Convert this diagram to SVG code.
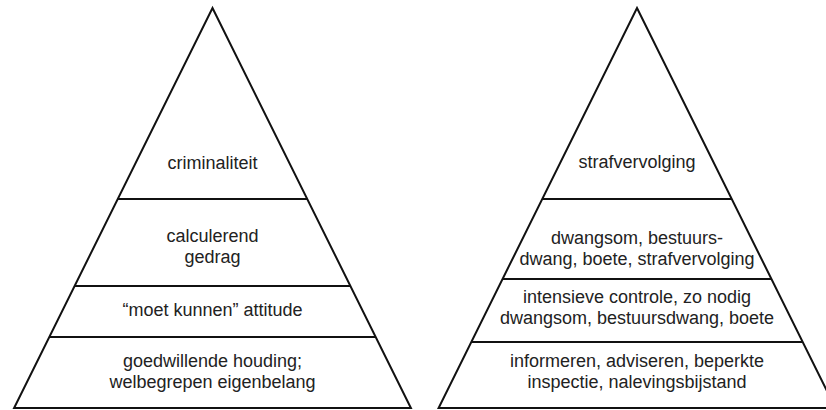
<svg xmlns="http://www.w3.org/2000/svg" width="826" height="410" viewBox="0 0 826 410">
<style>
.edge{fill:none;stroke:#111;stroke-width:2;stroke-linejoin:miter}
.sep{stroke:#111;stroke-width:2}
.t{font-family:"Liberation Sans",Arial,sans-serif;font-size:18px;fill:#222;text-anchor:middle}
</style>
<rect width="826" height="410" fill="#fff"/>
<g id="connectors">
  <polygon class="edge" points="212.5,8 410.9,408 14.1,408"/>
  <line class="sep" x1="117.8" y1="199" x2="307.2" y2="199"/>
  <line class="sep" x1="74.6" y1="286" x2="350.4" y2="286"/>
  <line class="sep" x1="49.3" y1="337" x2="375.7" y2="337"/>
  <polygon class="edge" points="637,8 835.4,408 438.6,408"/>
  <line class="sep" x1="542.3" y1="199" x2="731.7" y2="199"/>
  <line class="sep" x1="502.6" y1="279" x2="771.4" y2="279"/>
  <line class="sep" x1="471.3" y1="342" x2="802.7" y2="342"/>
</g>
<g id="left-tier1"><text class="t" x="212.5" y="169">criminaliteit</text></g>
<g id="left-tier2"><text class="t" x="212.5" y="242">calculerend</text><text class="t" x="212.5" y="263">gedrag</text></g>
<g id="left-tier3"><text class="t" x="212.5" y="316">&#8220;moet kunnen&#8221; attitude</text></g>
<g id="left-tier4"><text class="t" x="212.5" y="367">goedwillende houding;</text><text class="t" x="212.5" y="388">welbegrepen eigenbelang</text></g>
<g id="right-tier1"><text class="t" x="637" y="168">strafvervolging</text></g>
<g id="right-tier2"><text class="t" x="637" y="244">dwangsom, bestuurs-</text><text class="t" x="637" y="265">dwang, boete, strafvervolging</text></g>
<g id="right-tier3"><text class="t" x="637" y="303">intensieve controle, zo nodig</text><text class="t" x="637" y="324">dwangsom, bestuursdwang, boete</text></g>
<g id="right-tier4"><text class="t" x="637" y="367">informeren, adviseren, beperkte</text><text class="t" x="637" y="388">inspectie, nalevingsbijstand</text></g>
</svg>
